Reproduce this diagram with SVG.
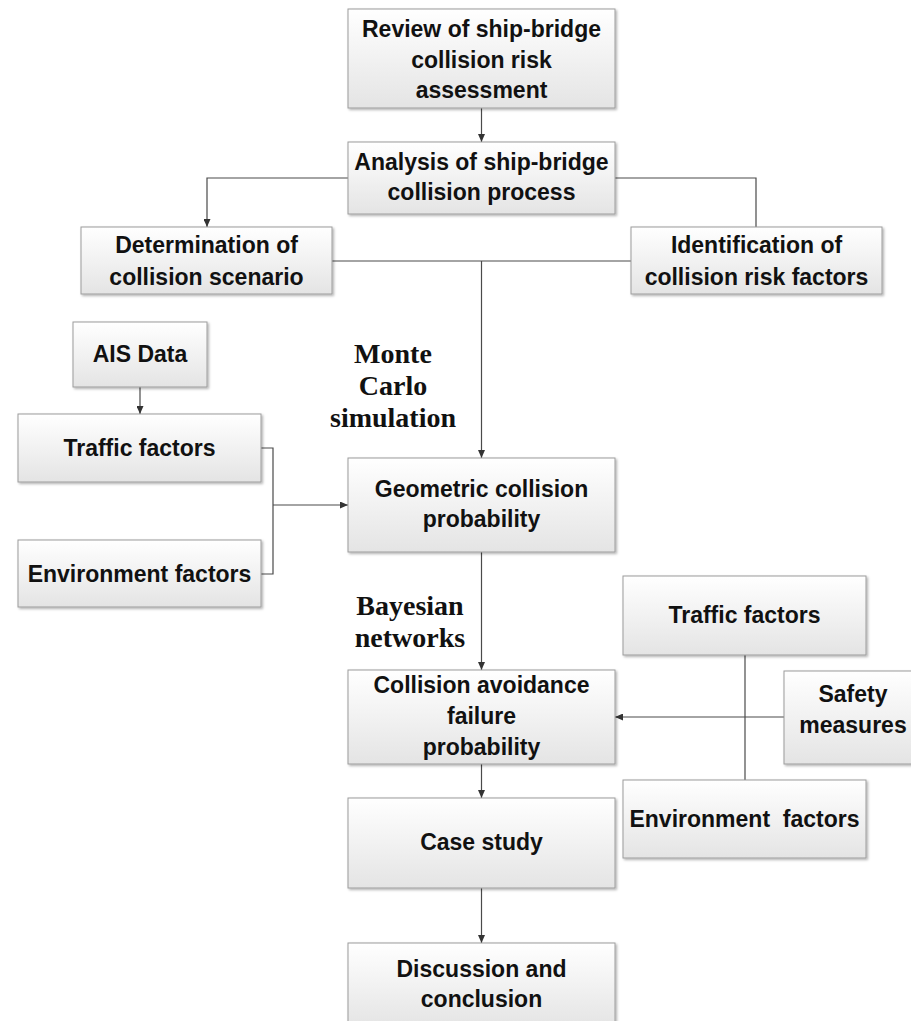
<svg xmlns="http://www.w3.org/2000/svg" width="911" height="1021" viewBox="0 0 911 1021">
<style>
.box{fill:url(#g);stroke:#9c9c9c;stroke-width:1;filter:url(#sh)}
.t{font-family:"Liberation Sans",Arial,sans-serif;font-weight:bold;font-size:23px;fill:#111;text-anchor:middle}
.t2{font-size:23px}
.s{font-family:"Liberation Serif","Times New Roman",serif;font-weight:bold;font-size:28px;fill:#111;text-anchor:middle}
.c{fill:none;stroke:#4a4a4a;stroke-width:1.2}
.a{marker-end:url(#ah)}
</style>
<defs>
<linearGradient id="g" x1="0" y1="0" x2="0" y2="1">
<stop offset="0" stop-color="#ffffff"/>
<stop offset="1" stop-color="#e4e4e4"/>
</linearGradient>
<filter id="sh" x="-5%" y="-5%" width="115%" height="120%">
<feDropShadow dx="1.5" dy="1.5" stdDeviation="0.8" flood-color="#000" flood-opacity="0.3"/>
</filter>
<marker id="ah" markerUnits="userSpaceOnUse" markerWidth="8" markerHeight="7" refX="8" refY="3.5" orient="auto">
<path d="M0,0 L8,3.5 L0,7 z" fill="#333"/>
</marker>
</defs>
<g id="connectors">
<path class="c a" d="M481.5,108 V142"/>
<path class="c a" d="M348,178 H207 V227"/>
<path class="c" d="M615,178 H756 V227"/>
<path class="c" d="M332,261 H631"/>
<path class="c a" d="M481.5,261 V458"/>
<path class="c a" d="M140,387 V414"/>
<path class="c" d="M261,448 H273 V574 H261"/>
<path class="c a" d="M273,505 H348"/>
<path class="c a" d="M481.5,552 V670"/>
<path class="c" d="M745,655 V780"/>
<path class="c a" d="M784,717 H615"/>
<path class="c a" d="M481.5,764 V798"/>
<path class="c a" d="M481.5,888 V943"/>
</g>
<g id="review"><rect class="box" x="348" y="9" width="267" height="99"/>
<text class="t" x="481.5" y="37">Review of ship-bridge</text>
<text class="t" x="481.5" y="68">collision risk</text>
<text class="t" x="481.5" y="98">assessment</text></g>
<g id="analysis"><rect class="box" x="348" y="142" width="267" height="72"/>
<text class="t" x="481.5" y="170">Analysis of ship-bridge</text>
<text class="t" x="481.5" y="200">collision process</text></g>
<g id="determination"><rect class="box" x="81" y="227" width="251" height="67"/>
<text class="t t2" x="206.5" y="253">Determination of</text>
<text class="t t2" x="206.5" y="285">collision scenario</text></g>
<g id="identification"><rect class="box" x="631" y="227" width="251" height="67"/>
<text class="t t2" x="756.5" y="253">Identification of</text>
<text class="t t2" x="756.5" y="285">collision risk factors</text></g>
<g id="ais"><rect class="box" x="73" y="322" width="134" height="65"/>
<text class="t" x="140" y="362">AIS Data</text></g>
<g id="traffic-left"><rect class="box" x="18" y="414" width="243" height="68"/>
<text class="t" x="139.5" y="456">Traffic factors</text></g>
<g id="env-left"><rect class="box" x="18" y="540" width="243" height="67"/>
<text class="t" x="139.5" y="582">Environment factors</text></g>
<g id="monte-label">
<text class="s" x="393" y="363">Monte</text>
<text class="s" x="393" y="395">Carlo</text>
<text class="s" x="393" y="427">simulation</text></g>
<g id="geometric"><rect class="box" x="348" y="458" width="267" height="94"/>
<text class="t" x="481.5" y="497">Geometric collision</text>
<text class="t" x="481.5" y="527">probability</text></g>
<g id="bayes-label">
<text class="s" x="410" y="615">Bayesian</text>
<text class="s" x="410" y="647">networks</text></g>
<g id="avoidance"><rect class="box" x="348" y="670" width="267" height="94"/>
<text class="t" x="481.5" y="693">Collision avoidance</text>
<text class="t" x="481.5" y="724">failure</text>
<text class="t" x="481.5" y="755">probability</text></g>
<g id="traffic-right"><rect class="box" x="623" y="576" width="243" height="79"/>
<text class="t" x="744.5" y="623">Traffic factors</text></g>
<g id="safety"><rect class="box" x="784" y="671" width="140" height="93"/>
<text class="t" x="853" y="702">Safety</text>
<text class="t" x="853" y="733">measures</text></g>
<g id="env-right"><rect class="box" x="623" y="780" width="243" height="78"/>
<text class="t" x="744.5" y="827" style="white-space:pre">Environment  factors</text></g>
<g id="case"><rect class="box" x="348" y="798" width="267" height="90"/>
<text class="t" x="481.5" y="850">Case study</text></g>
<g id="discussion"><rect class="box" x="348" y="943" width="267" height="85"/>
<text class="t" x="481.5" y="977">Discussion and</text>
<text class="t" x="481.5" y="1007">conclusion</text></g>
</svg>
